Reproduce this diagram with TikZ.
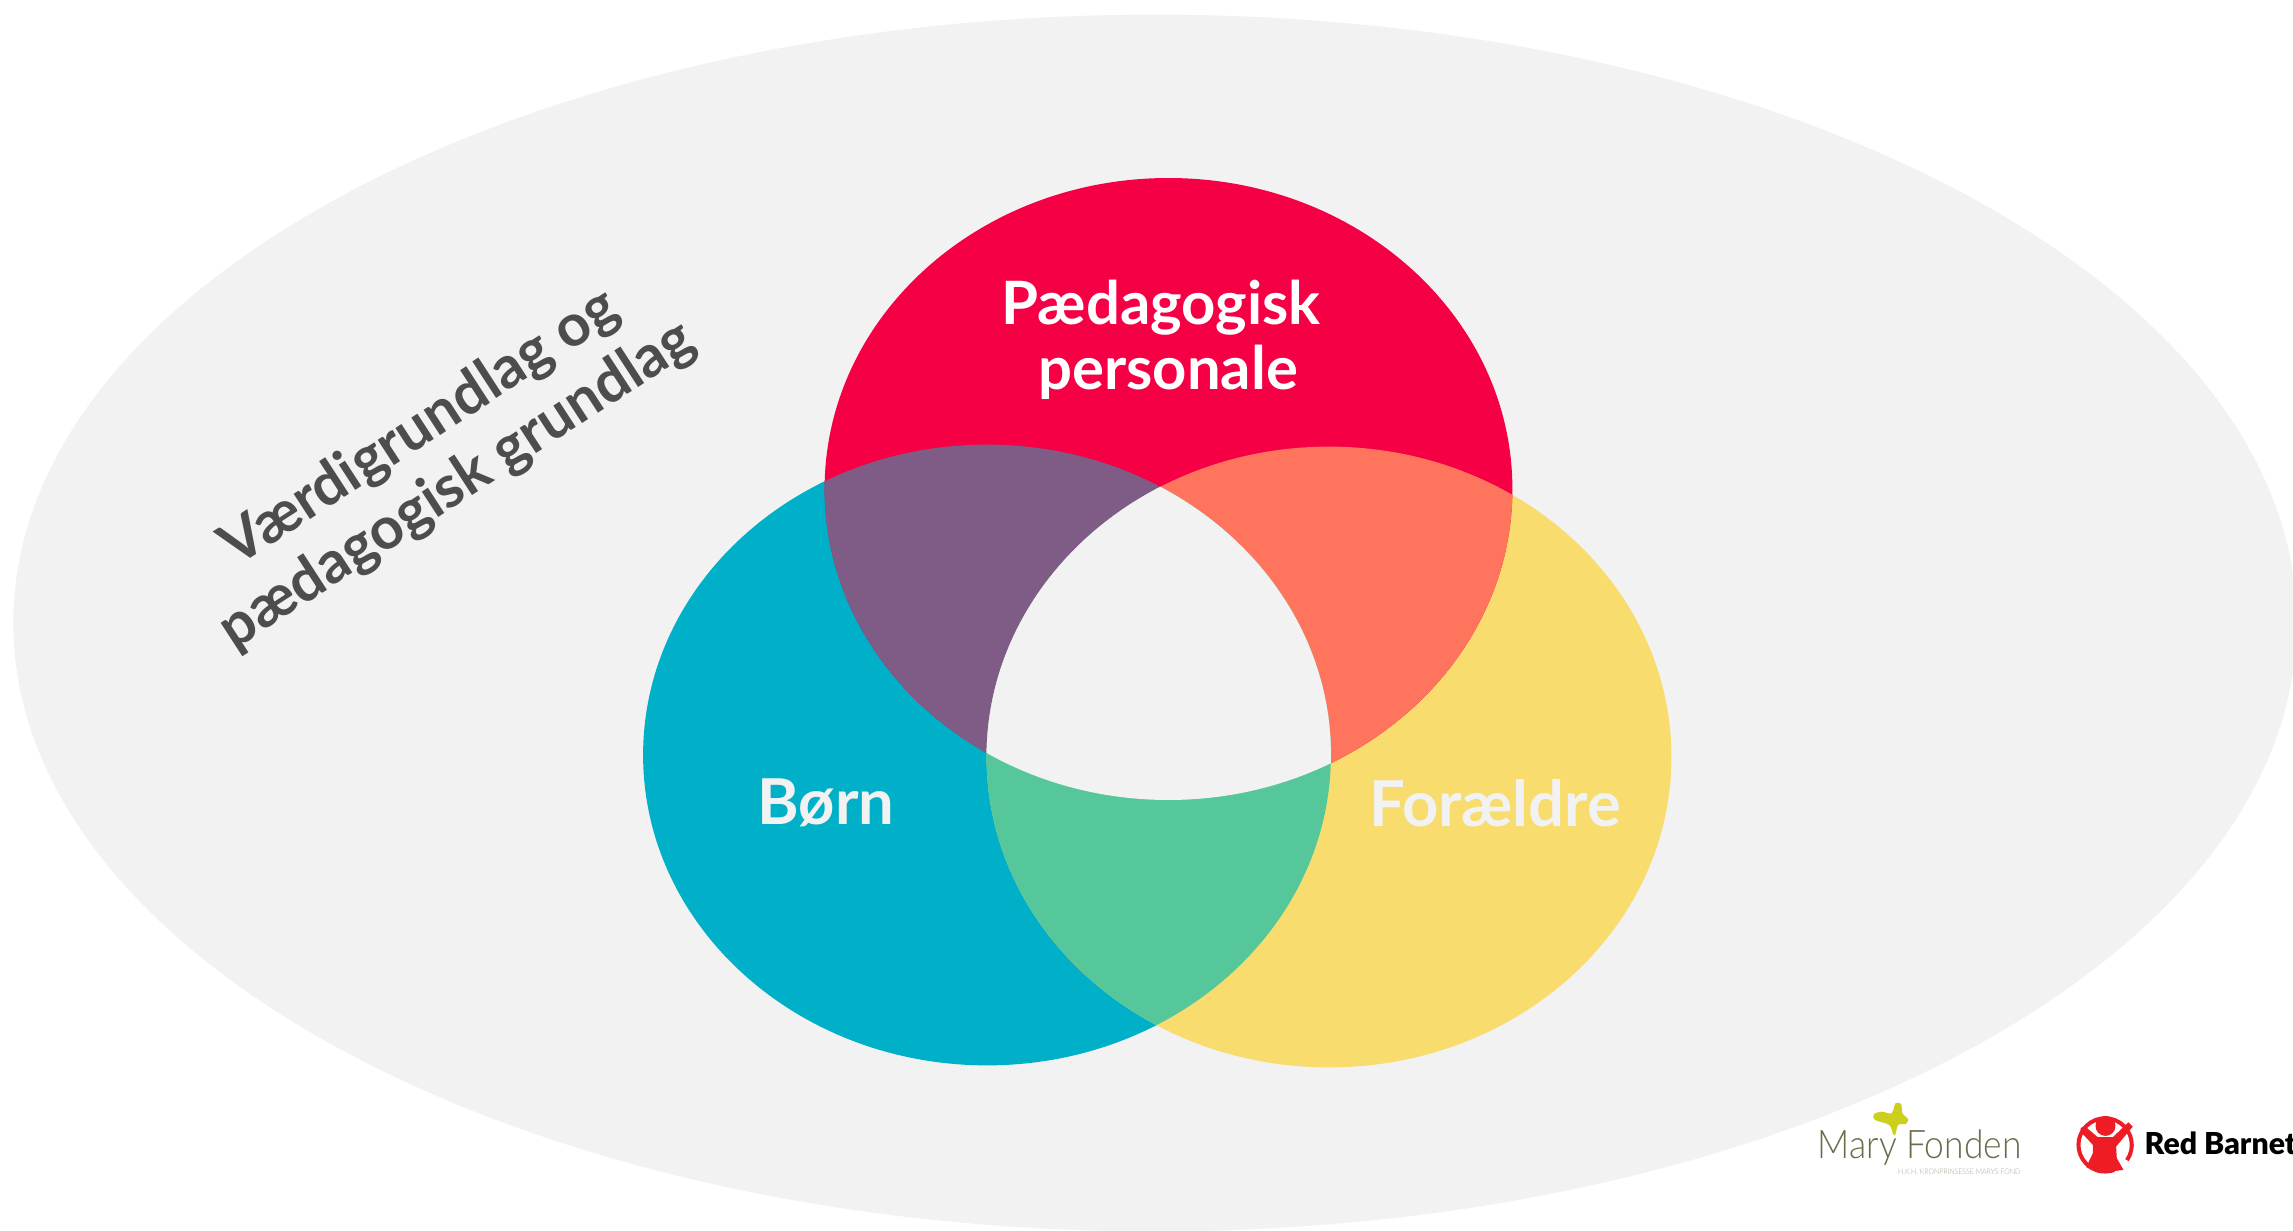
\documentclass[tikz,border=0pt]{standalone}
\usepackage{fontspec}
\setmainfont{Lato}
\newfontfamily\maryfont[FakeStretch=0.9]{Lato Light}
\newfontfamily\barnetfont{Lato Black}
\definecolor{backgray}{HTML}{F2F2F2}
\definecolor{perred}{HTML}{F50044}
\definecolor{bornblue}{HTML}{00B0C8}
\definecolor{foryellow}{HTML}{F8DC6E}
\definecolor{mixpurple}{HTML}{7E5C85}
\definecolor{mixorange}{HTML}{FF745C}
\definecolor{mixgreen}{HTML}{56C79A}
\definecolor{textgray}{HTML}{4D4D4D}
\definecolor{maryolive}{HTML}{6B6B4A}
\definecolor{marylime}{HTML}{CCCF1E}
\definecolor{barnetred}{HTML}{EE1C25}
\def\perpath{(1168.5,489) ellipse [x radius=3.437cm, y radius=3.108cm]}
\def\bornpath{(987,755) ellipse [x radius=3.437cm, y radius=3.102cm]}
\def\forpath{(1329,757) ellipse [x radius=3.422cm, y radius=3.102cm]}
\tikzset{
  circlelabel/.style={text=backgray, font=\fontsize{18}{24}\selectfont\bfseries},
  perlabel/.style={text=white, font=\fontsize{17}{19}\selectfont\bfseries},
  grundlabel/.style={text=textgray, font=\fontsize{16.7}{19.4}\selectfont\bfseries, align=center, rotate=33}
}
\begin{document}
\begin{tikzpicture}[x=0.01cm, y=-0.01cm]
\useasboundingbox (0,0) rectangle (2293,1231);
\fill[white] (0,0) rectangle (2293,1231);
\begin{scope}
\clip (0,0) rectangle (2293,1231);
\fill[backgray] (1155,623) ellipse [x radius=11.41cm, y radius=6.08cm];
\end{scope}
% the three circles
\fill[bornblue] \bornpath;
\fill[foryellow] \forpath;
\fill[perred] \perpath;
% overlaps
\begin{scope}
\clip \perpath;
\fill[mixpurple] \bornpath;
\fill[mixorange] \forpath;
\clip \bornpath;
\fill[backgray] \forpath;
\end{scope}
\begin{scope}
\clip \bornpath;
\clip \forpath;
\fill[mixgreen] (500,400) rectangle (1800,1100);
\clip \perpath;
\fill[backgray] (500,400) rectangle (1800,1100);
\end{scope}
% labels
\node[perlabel] (paedagogisk) at (1161,308) {Pædagogisk};
\node[perlabel] (personale) at (1168,372) {personale};
\node[circlelabel] (born) at (826,803) {Børn};
\node[circlelabel] (foraeldre) at (1495,803) {Forældre};
\node[grundlabel] (grundlag) at (439,457) {Værdigrundlag og\\pædagogisk grundlag};
% logos
\node[text=maryolive, font=\maryfont\fontsize{11.2}{11.2}\selectfont, anchor=base west, inner sep=0pt] (mary) at (1817,1159) {Mary Fonden};
\node[text=maryolive!60, font=\maryfont\fontsize{2.2}{2.2}\selectfont, anchor=base east, inner sep=0pt] (maryfond) at (2021,1175) {H.K.H. KRONPRINSESSE MARYS FOND};
\node[text=black, font=\barnetfont\fontsize{8.6}{8.6}\selectfont, anchor=base west, inner sep=0pt] (barnet) at (2144,1154) {Red Barnet};
\begin{scope}[shift={(1780,1080)}, x=0.00333cm, y=-0.00333cm]
\fill[marylime] plot[smooth cycle] coordinates {(340,163) (328,135) (285,120) (282,103) (305,95) (335,100) (347,70) (364,72) (368,100) (385,118) (378,132) (355,135) (347,163)};
\draw[barnetred, line width=0.04cm] (977,195) ++(35:80) arc [start angle=-35, end angle=290, radius=0.2664cm];
\fill[barnetred] (978,138) circle [radius=0.1cm];
\fill[barnetred] (903,145) -- (915,138) -- (955,172) -- (1000,172) -- (1047,127) -- (1060,140) -- (1010,200) -- (1012,235) -- (1032,270) -- (960,280) -- (920,262) -- (940,220) -- (940,195) -- (903,155) -- cycle;
\end{scope}
\end{tikzpicture}
\end{document}
